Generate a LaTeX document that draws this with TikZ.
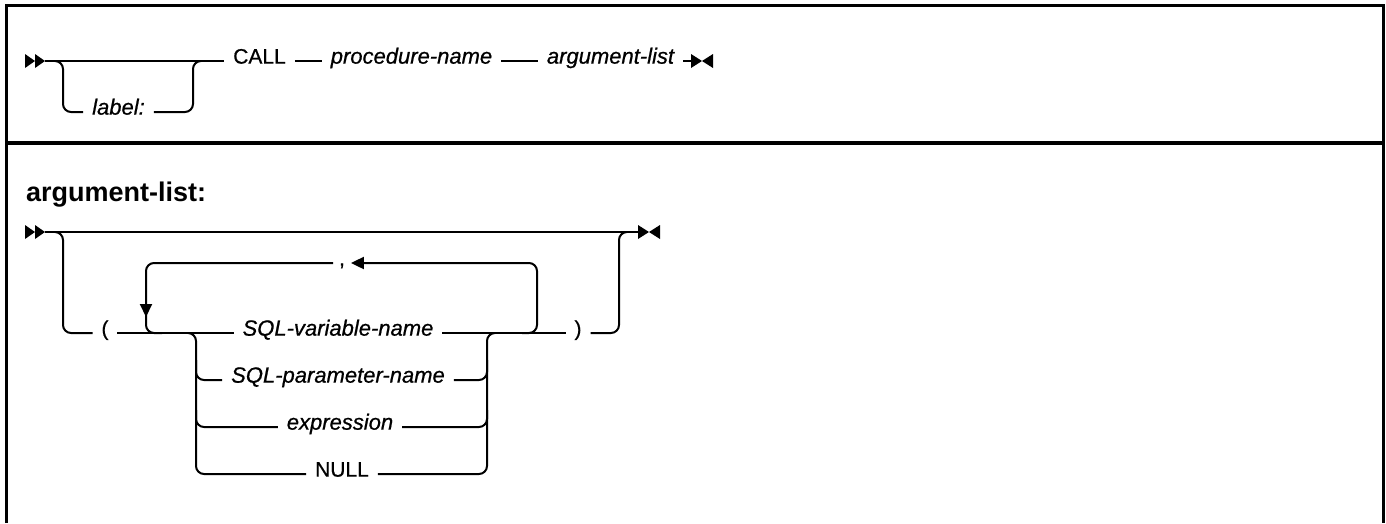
\documentclass[tikz,border=0pt]{standalone}
\usepackage{fontspec}
\setmainfont{Liberation Sans}
\newfontfamily\dgmfont{Liberation Sans}[FakeBold=0.7]
\usetikzlibrary{arrows.meta}
\begin{document}
\begin{tikzpicture}[x=1pt,y=-1pt,line width=2pt,
  txt/.style={inner xsep=8pt,inner ysep=0pt,anchor=mid,font=\dgmfont\fontsize{21}{25}\selectfont},
  itx/.style={txt,font=\dgmfont\fontsize{22}{26}\selectfont\itshape},
  rc/.style={rounded corners=8pt},
  downtip/.style={-{Triangle[length=13pt,width=12pt]}},
  startpic/.pic={\fill (-20,-7) -- (-10,0) -- (-20,7) -- cycle;
                 \fill (-10,-7) -- (0,0) -- (-10,7) -- cycle;},
  endpic/.pic={\fill (0,-7) -- (11,0) -- (0,7) -- cycle;
               \fill (22,-7) -- (11,0) -- (22,7) -- cycle;}]
\useasboundingbox (0,0) rectangle (1386,523);
% frame
\draw[line width=3pt] (6,523) -- (6,5) -- (1383,5) -- (1383,523);
\draw[line width=4pt] (6,143) -- (1383,143);
% ---------- row 1
\coordinate (s1) at (45,61);
\coordinate (e1) at (691,61);
\pic at (s1) {startpic};
\node[txt] (call) at (259.5,61) {CALL};
\node[itx] (proc) at (411.5,61) {procedure-name};
\node[itx] (arg) at (610.5,61) {argument-list};
\node[itx] (lab) at (118.5,112) {label:};
\draw (s1) -- (call.mid west);
\draw (call.mid east) -- (proc.mid west);
\draw (proc.mid east) -- (arg.mid west);
\draw (arg.mid east) -- (e1);
\pic at (e1) {endpic};
\draw[rc] (55,61) -- (63,61) -- (63,112) -- (lab.mid west);
\draw[rc] (lab.mid east) -- (193,112) -- (193,61) -- (201,61);
% ---------- row 2
\node[font=\fontsize{27}{32}\selectfont\bfseries,anchor=base west,inner sep=0pt] (head) at (25,201) {argument-list:};
\coordinate (s2) at (45,232);
\coordinate (e2) at (638,232);
\pic at (s2) {startpic};
\draw (s2) -- (e2);
\pic at (e2) {endpic};
\node[txt] (lp) at (105,333) {(};
\node[txt] (rp) at (578,333) {)};
\node[itx] (var) at (338,333) {SQL-variable-name};
\node[itx] (par) at (338,380) {SQL-parameter-name};
\node[itx] (expr) at (340,427) {expression};
\node[txt] (null) at (342,474) {NULL};
\node[txt,inner xsep=5pt] (comma) at (342,263) {,};
\draw[rc] (55,232) -- (63,232) -- (63,333) -- (lp.mid west);
\draw (lp.mid east) -- (var.mid west);
\draw (var.mid east) -- (rp.mid west);
\draw[rc] (rp.mid east) -- (619,333) -- (619,232) -- (627,232);
% repeat loop
\draw[rc,downtip] (522,333) -- (537,333) -- (537,263) -- (comma.mid east);
\draw[rc,downtip] (comma.mid west) -- (146,263) -- (146,317);
\draw[rc] (146,305) -- (146,333) -- (162,333);
% choice
\draw[rc] (188,333) -- (196,333) -- (196,474) -- (null.mid west);
\draw[rc] (196,360) |- (par.mid west);
\draw[rc] (196,410) |- (expr.mid west);
\draw[rc] (null.mid east) -- (487,474) -- (487,333) -- (495,333);
\draw[rc] (par.mid east) -| (487,360);
\draw[rc] (expr.mid east) -| (487,410);
\end{tikzpicture}
\end{document}
